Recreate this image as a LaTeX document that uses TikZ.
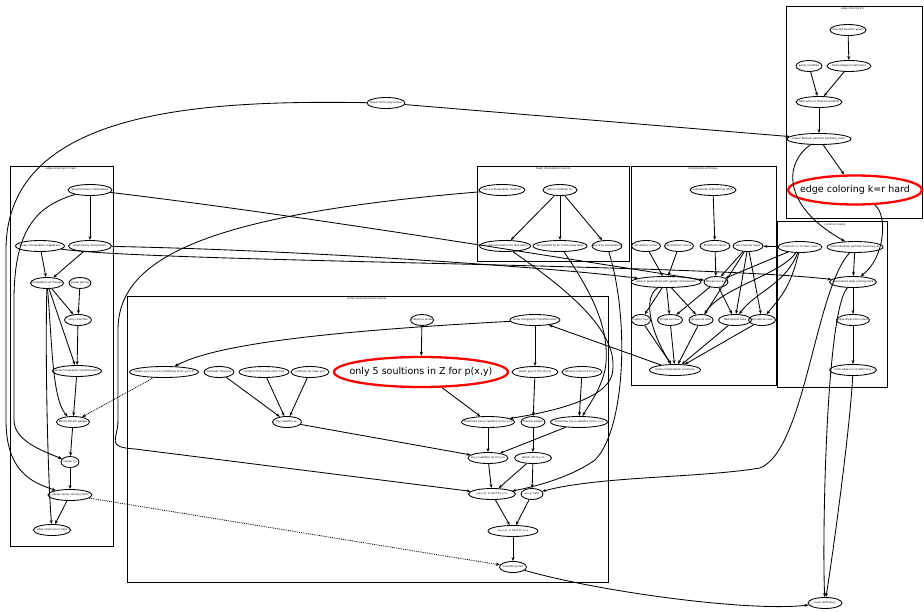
\documentclass[tikz,border=0pt]{standalone}
\usepackage{fontspec}
\setmainfont{DejaVu Sans}
\usetikzlibrary{shapes.geometric,arrows.meta}
\newcommand{\nd}[5]{\node[nd,minimum width=#4pt] (#1) at (#2,#3) {\makebox[0pt]{#5}};}
\begin{document}
\begin{tikzpicture}[x=1pt,y=-1pt,
  nd/.style={ellipse,draw,line width=0.85pt,inner sep=0pt,minimum height=11pt,font=\fontsize{2.6}{3}\selectfont},
  big/.style={ellipse,draw=red,line width=2.3pt,inner sep=0pt,font=\fontsize{9.5}{11}\selectfont},
  clu/.style={draw,line width=0.9pt},
  ttl/.style={inner sep=0pt,font=\fontsize{2.6}{3}\selectfont},
  ar/.style={-{Stealth[length=4pt,width=3pt]},line width=0.85pt},
  dt/.style={ar,densely dotted}]
\useasboundingbox[fill=white] (0,0) rectangle (924,612);
% clusters
\draw[clu] (786,6) rectangle (922,218);
\draw[clu] (10,166) rectangle (113,546);
\draw[clu] (477,166) rectangle (629,261);
\draw[clu] (631,166) rectangle (776,385);
\draw[clu] (777,221) rectangle (887,387);
\draw[clu] (127,296) rectangle (608,582);
\node[ttl] (t1) at (853,9) {edge coloring k=r};
\node[ttl] (t2) at (61,169) {edge coloring k=r hard};
\node[ttl] (t3) at (553,169) {major interpolation results};
\node[ttl] (t4) at (703,169) {interpolation all binary};
\node[ttl] (t5) at (835,225) {construct reality};
\node[ttl] (t6) at (367,299) {binary and polynomial results};
% C1
\nd{a1}{848}{30}{36}{directed bipartite graph}
\nd{a2}{809}{66}{26}{parity condition}
\nd{a3}{849}{66}{44}{Gallai diagonal statement}
\nd{a4}{819}{102}{46}{state and our theorem problem}
\nd{a5}{819}{139}{64}{planar Boolean partition hard(two\_color)}
\node[big,minimum width=134pt,minimum height=29pt] (R1) at (855,190) {\makebox[0pt]{edge coloring k=r hard}};
% C2
\nd{b1}{90}{190}{44}{general binary interpolation}
\nd{b2}{40}{246}{49}{binary interpolation (algebraic)}
\nd{b3}{90}{246}{43}{quasi-binary interpolation}
\nd{b4}{47}{283}{33}{interpolation all theorem}
\nd{b5}{80}{283}{22}{planar pairing}
\nd{b6}{78}{320}{27}{unity reduction}
\nd{b7}{77}{371}{49}{linear holographic transformation}
\nd{b8}{73}{422}{33}{Barely Fischer gadget}
\nd{b9}{70}{462}{18}{unique r\_3}
\nd{b10}{70}{495}{44}{planar vertex coloring hard}
\nd{b11}{52}{530}{37}{edge coloring k=r hard}
% C3
\nd{c1}{502}{190}{46}{check orthogonality condition}
\nd{c2}{560}{190}{34}{lattice condition (L)}
\nd{c3}{505}{246}{51}{1st characterization for rank polys}
\nd{c4}{560}{246}{54}{1st satisfied by Sn to the basis basis}
\nd{c5}{607}{246}{30}{any arity interpolation}
% C4
\nd{d1}{713}{190}{46}{exponential shifted triple (PHP)}
\nd{d2}{646}{246}{29}{1st distinct norms}
\nd{d3}{679}{246}{29}{2nd distinct norms}
\nd{d4}{715}{246}{30}{PP distinct norms}
\nd{d5}{748}{246}{30}{extra special cases}
\nd{e1}{666}{282}{70}{generic generalized with gadget interpolation}
\nd{e2}{716}{282}{24}{AM special case}
\nd{f1}{641}{320}{19}{Cipher case}
\nd{f2}{670}{320}{25}{PI special case}
\nd{f3}{701}{320}{24}{Jaf special case}
\nd{f4}{735}{320}{33}{DGS special case}
\nd{f5}{762}{320}{27}{TuS special case}
\nd{s}{675}{370}{51}{binary interpolation summary}
% C5
\nd{p1}{800}{247}{44}{construct r=r in main cases}
\nd{p2}{855}{247}{56}{planar Boolean partition hard (two\_d)}
\nd{p3}{853}{282}{47}{generalized edge coloring hard}
\nd{p4}{853}{320}{33}{edge-triple-of-k=r-hard}
\nd{p5}{853}{370}{47}{multi-edge-k=r-in deficiency}
% outside
\nd{NF}{386}{103}{38}{Never forms polynomial}
\nd{BN}{825}{603}{34}{Lucas deficiency}
% C6
\nd{m1}{164}{372}{69}{obtain x,y,z (x+y+z) something as f(x,y,z)=0}
\nd{m2}{219}{372}{30}{Gratitude Theorem}
\nd{m3}{264}{372}{50}{condition from some norm trick}
\nd{m4}{310}{372}{38}{condition for lower gcd}
\node[big,minimum width=174pt,minimum height=30pt] (R2) at (421,372) {\makebox[0pt]{only 5 soultions in Z for p(x,y)}};
\nd{m5}{422}{320}{23}{Frobenius series}
\nd{m6}{535}{320}{50}{linear holographic transformation}
\nd{m7}{535}{372}{46}{obtain p(x) in f(X)-(2)-(3)}
\nd{m8}{582}{372}{40}{What at roots in Z for p(x)}
\nd{m9}{287}{422}{29}{p(x) satisfies (x)}
\nd{m10}{488}{422}{53}{Substitute p(x,y) satisfies (x) for y=x}
\nd{m11}{533}{422}{24}{Triangle gadget}
\nd{m12}{579}{422}{57}{Substitute p(x,y) satisfies (x) for y=x}
\nd{m13}{488}{458}{40}{p(x,y) satisfies (x) for y=x}
\nd{m14}{533}{458}{37}{obtain x(t)(x,y,z)}
\nd{m15}{492}{494}{47}{x(x,y,z), in hard for y=x}
\nd{m16}{532}{494}{22}{x(x,y) hard}
\nd{m17}{513}{531}{50}{x(x,y,z), in hard for y=x}
\nd{m18}{513}{567}{27}{everything hard}
% ---- edges C1
\draw[ar] (a1) -- (a3);
\draw[ar] (a2) -- (a4);
\draw[ar] (a3) -- (a4);
\draw[ar] (a4) -- (a5);
\draw[ar] (a5) -- (R1);
\draw[ar] (a5) .. controls (785,162) and (780,205) .. (p2);
\draw[ar] (R1) .. controls (888,215) and (885,258) .. (p3);
\draw[ar] (NF) -- (a5);
% C5
\draw[ar] (p2) -- (p3);
\draw[ar] (p3) -- (p4);
\draw[ar] (p4) -- (p5);
\draw[ar] (p5) .. controls (850,430) and (832,560) .. (BN);
\draw[ar] (p3) .. controls (826,310) and (822,540) .. (BN);
\draw[ar] (p2) .. controls (815,290) and (805,450) .. (760,468) .. controls (700,478) and (600,476) .. (m16);
\draw[ar] (p1) -- (d5);
\draw[ar] (p1) .. controls (790,290) and (778,300) .. (f5);
\draw[ar] (p1) .. controls (785,285) and (755,292) .. (f4);
\draw[ar] (p1) .. controls (780,275) and (720,288) .. (f3);
\draw[ar] (p1) -- (e2);
% C4
\draw[ar] (d1) -- (d4);
\draw[ar] (d2) -- (e1);
\draw[ar] (d3) -- (e1);
\draw[ar] (d4) -- (e2);
\draw[ar] (d5) -- (e2);
\draw[ar] (d5) -- (f3);
\draw[ar] (d5) -- (f4);
\draw[ar] (d5) -- (f5);
\draw[ar] (e1) -- (f1);
\draw[ar] (e1) -- (f2);
\draw[ar] (e1) -- (f3);
\draw[ar] (e1) .. controls (640,300) and (655,340) .. (s);
\draw[ar] (e2) -- (f2);
\draw[ar] (e2) -- (f4);
\draw[ar] (f1) -- (s);
\draw[ar] (f2) -- (s);
\draw[ar] (f3) -- (s);
\draw[ar] (f4) -- (s);
\draw[ar] (f5) -- (s);
\draw[ar] (s) -- (m6);
% C2 to right
\draw[ar] (b1) .. controls (300,215) and (560,258) .. (e2);
\draw[ar] (b3) .. controls (300,250) and (560,268) .. (e1);
\draw[ar] (b2) .. controls (150,262) and (700,264) .. (p3);
% C3
\draw[ar] (c2) -- (c3);
\draw[ar] (c2) -- (c4);
\draw[ar] (c2) -- (c5);
\draw[ar] (c1) .. controls (200,215) and (118,260) .. (118,330) -- (118,420) .. controls (118,440) and (105,447) .. (135,449) -- (m15);
\draw[ar] (c3) .. controls (560,285) and (622,330) .. (612,375) .. controls (605,400) and (550,412) .. (m10);
\draw[ar] (c4) .. controls (590,290) and (612,330) .. (605,370) .. controls (600,390) and (592,400) .. (m12);
\draw[ar] (c5) .. controls (630,320) and (625,430) .. (595,460) .. controls (570,478) and (530,488) .. (m15);
% C2 internal
\draw[ar] (b1) -- (b3);
\draw[ar] (b3) -- (b4);
\draw[ar] (b2) -- (b4);
\draw[ar] (b4) -- (b6);
\draw[ar] (b4) -- (b7);
\draw[ar] (b4) .. controls (52,340) and (52,400) .. (b8);
\draw[ar] (b4) .. controls (45,360) and (48,480) .. (b11);
\draw[ar] (b5) -- (b6);
\draw[ar] (b6) -- (b7);
\draw[ar] (b7) -- (b8);
\draw[ar] (b8) -- (b9);
\draw[ar] (b9) -- (b10);
\draw[ar] (b10) -- (b11);
\draw[ar] (b1) .. controls (40,205) and (14,225) .. (14,300) -- (14,420) .. controls (14,440) and (40,450) .. (b9);
\draw[ar] (NF) .. controls (200,100) and (6,110) .. (6,250) -- (6,420) .. controls (6,470) and (30,482) .. (b10);
% C6
\draw[ar] (m5) -- (R2);
\draw[ar] (m6) -- (m7);
\draw[ar] (m6) .. controls (350,330) and (220,342) .. (m1);
\draw[ar] (R2) -- (m10);
\draw[ar] (m7) -- (m11);
\draw[ar] (m8) -- (m12);
\draw[ar] (m2) -- (m9);
\draw[ar] (m3) -- (m9);
\draw[ar] (m4) -- (m9);
\draw[ar] (m9) -- (m13);
\draw[ar] (m10) -- (m13);
\draw[ar] (m12) -- (m13);
\draw[ar] (m11) -- (m14);
\draw[ar] (m13) -- (m15);
\draw[ar] (m14) -- (m15);
\draw[ar] (m14) -- (m16);
\draw[ar] (m15) -- (m17);
\draw[ar] (m16) -- (m17);
\draw[ar] (m17) -- (m18);
\draw[ar] (m18) .. controls (600,592) and (750,612) .. (BN);
\draw[dt] (m1) -- (b8);
\draw[dt] (b10) -- (m18);
\end{tikzpicture}
\end{document}
